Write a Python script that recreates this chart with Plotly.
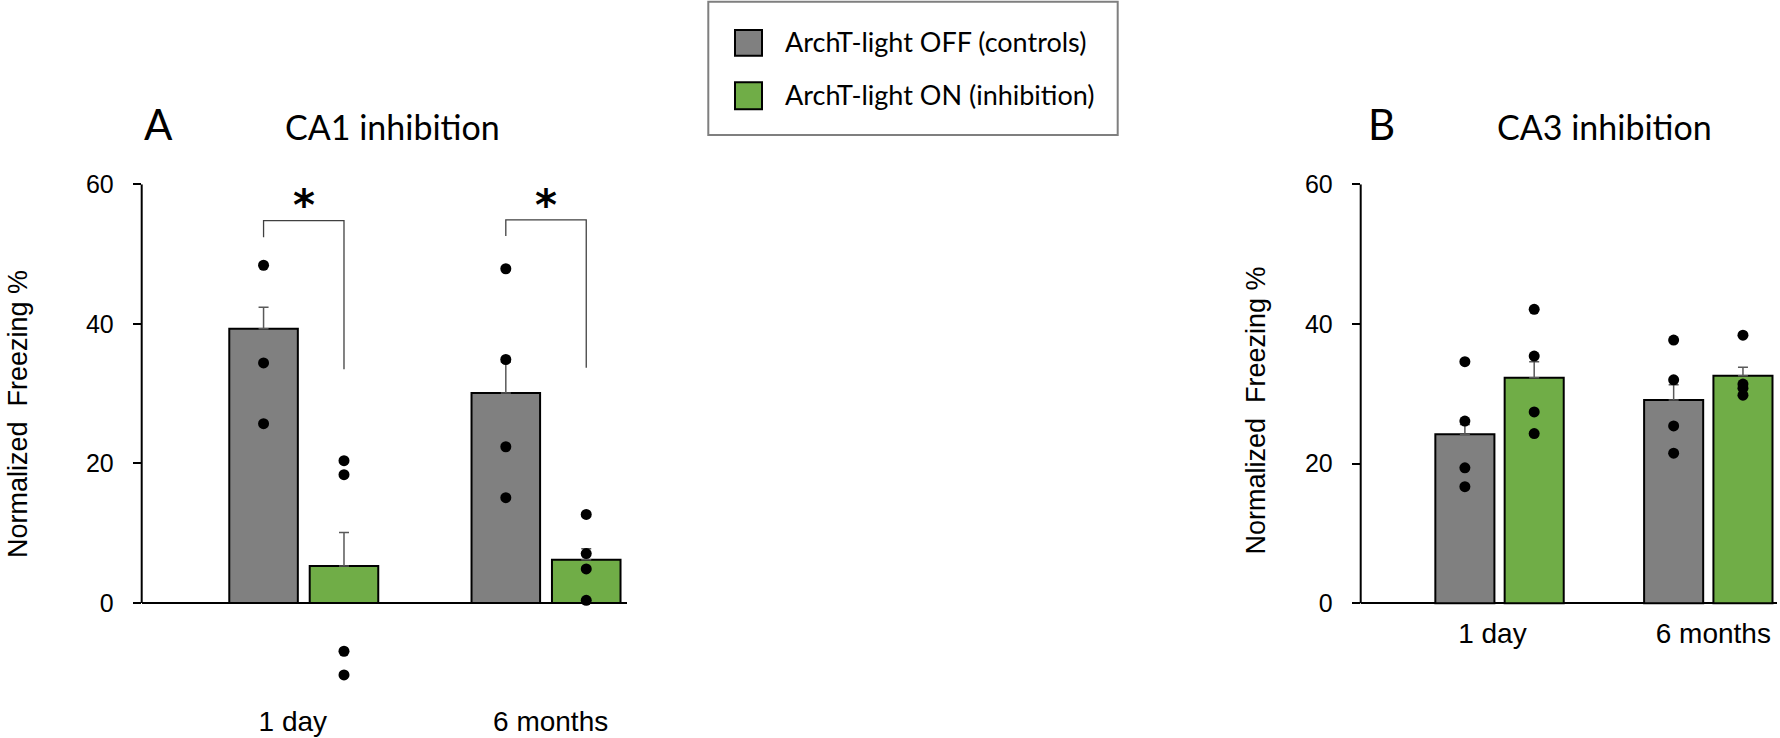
import plotly.graph_objects as go

# ---- data -------------------------------------------------------------
categories = ["1 day", "6 months"]
tick_values = [0, 20, 40, 60]

# CA1 inhibition (panel A)
ca1_off_mean = [39.3, 30.1]
ca1_off_sem = [3.1, 4.4]
ca1_on_mean = [5.3, 6.2]
ca1_on_sem = [4.8, 1.6]
ca1_off_points = [[48.4, 34.4, 25.7], [47.9, 34.9, 22.4, 15.1]]
ca1_on_points = [[20.4, 18.4, -6.9, -10.3], [12.7, 7.1, 4.9, 0.4]]

# CA3 inhibition (panel B)
ca3_off_mean = [24.2, 29.1]
ca3_off_sem = [1.4, 2.2]
ca3_on_mean = [32.3, 32.6]
ca3_on_sem = [2.3, 1.2]
ca3_off_points = [[34.6, 26.1, 19.4, 16.7], [37.7, 32.0, 25.4, 21.5]]
ca3_on_points = [[42.1, 35.4, 27.4, 24.3], [38.4, 31.4, 30.8, 29.8]]

series_names = ["ArchT-light OFF (controls)", "ArchT-light ON (inhibition)"]
panel_titles = ["CA1 inhibition", "CA3 inhibition"]
panel_letters = ["A", "B"]
y_title = "Normalized  Freezing %"

# ---- styling ----------------------------------------------------------
W, H = 1780, 738
GRAY = "#808080"
GREEN = "#70AD47"
ERR = "#595959"
AX_FONT = "Liberation Sans, Arial, sans-serif"
TXT_FONT = "Lato, Open Sans, sans-serif"
OFFSET = 0.166   # half distance between the two bars of a group
BAR_W = 0.283
# small horizontal nudges of the category labels (in category units)
LABEL_NUDGE_A = [-0.045, 0.019]
LABEL_NUDGE_B = [-0.034, 0.024]


def fx(px):
    return px / W


def fy(py):
    return 1 - py / H


fig = go.Figure()


def add_panel(xa, ya, off_mean, off_sem, on_mean, on_sem, off_pts, on_pts):
    idx = list(range(len(categories)))
    for sign, mean, sem, color, name in [
        (-1, off_mean, off_sem, GRAY, series_names[0]),
        (1, on_mean, on_sem, GREEN, series_names[1]),
    ]:
        fig.add_trace(go.Bar(
            x=[i + sign * OFFSET for i in idx], y=mean, width=BAR_W,
            name=name, showlegend=False,
            marker=dict(color=color, line=dict(color="black", width=2)),
            error_y=dict(type="data", symmetric=False, array=sem,
                         arrayminus=[0] * len(sem), color=ERR,
                         thickness=1.5, width=5),
            xaxis=xa, yaxis=ya,
        ))
    for sign, pts in [(-1, off_pts), (1, on_pts)]:
        xs, ys = [], []
        for i, group in zip(idx, pts):
            xs += [i + sign * OFFSET] * len(group)
            ys += group
        fig.add_trace(go.Scatter(
            x=xs, y=ys, mode="markers", showlegend=False,
            marker=dict(color="black", size=11),
            xaxis=xa, yaxis=ya,
        ))


add_panel("x", "y", ca1_off_mean, ca1_off_sem, ca1_on_mean, ca1_on_sem,
          ca1_off_points, ca1_on_points)
add_panel("x2", "y2", ca3_off_mean, ca3_off_sem, ca3_on_mean, ca3_on_sem,
          ca3_off_points, ca3_on_points)

xaxis_common = dict(
    tickmode="array", ticktext=categories,
    showgrid=False, zeroline=False, showline=False, ticks="",
    automargin=False,
    tickfont=dict(family=AX_FONT, size=28, color="black"),
)
yaxis_common = dict(
    tickmode="array", tickvals=tick_values,
    showgrid=False, showline=False, zeroline=True,
    zerolinecolor="black", zerolinewidth=2,
    ticks="outside", ticklen=8, tickwidth=2, tickcolor="black",
    ticklabelstandoff=14, automargin=False,
    tickfont=dict(family=AX_FONT, size=25, color="black"),
)

fig.update_layout(
    width=W, height=H,
    margin=dict(l=0, r=0, t=0, b=0, pad=0, autoexpand=False),
    paper_bgcolor="white", plot_bgcolor="white",
    barmode="overlay", showlegend=False,
    xaxis=dict(xaxis_common, domain=[fx(141.7), fx(626.7)],
               tickvals=[i + n for i, n in enumerate(LABEL_NUDGE_A)],
               range=[-0.669, 1.333], anchor="y", ticklabelstandoff=1),
    yaxis=dict(yaxis_common, domain=[fy(700.8), fy(184.3)],
               range=[-14, 60], anchor="x"),
    xaxis2=dict(xaxis_common, domain=[fx(1360.7), fx(1776.7)],
                tickvals=[i + n for i, n in enumerate(LABEL_NUDGE_B)],
                range=[-0.665, 1.3276], anchor="y2", ticklabelstandoff=0),
    yaxis2=dict(yaxis_common, domain=[fy(613.8), fy(184.3)],
                range=[-1.5, 60], anchor="x2"),
)

shapes = []
# vertical axis lines running from 0 to 60
for xr, yr in [("x domain", "y"), ("x2 domain", "y2")]:
    shapes.append(dict(type="line", xref=xr, yref=yr, x0=0, x1=0,
                       y0=0, y1=60, line=dict(color="black", width=2)))

# significance brackets in panel A
brackets = [(0, 52.4, 54.8, 33.5), (1, 52.6, 54.9, 33.7)]
for i, y_left, y_top, y_right in brackets:
    shapes.append(dict(
        type="path", xref="x", yref="y",
        path=(f"M {i - OFFSET},{y_left} L {i - OFFSET},{y_top} "
              f"L {i + OFFSET},{y_top} L {i + OFFSET},{y_right}"),
        line=dict(color="#404040", width=1.3),
    ))

# legend box and swatches
shapes.append(dict(type="rect", xref="paper", yref="paper",
                   x0=fx(708.3), x1=fx(1117.7), y0=fy(135), y1=fy(1.7),
                   line=dict(color="#7f7f7f", width=2), fillcolor="white"))
for (y0, y1), color in zip([(30, 55.7), (82.3, 109.3)], [GRAY, GREEN]):
    shapes.append(dict(type="rect", xref="paper", yref="paper",
                       x0=fx(735), x1=fx(762), y0=fy(y1), y1=fy(y0),
                       line=dict(color="black", width=2), fillcolor=color))

annotations = []
for name, yc in zip(series_names, [42, 94]):
    annotations.append(dict(text=name, xref="paper", yref="paper",
                            x=fx(783), y=fy(yc), xanchor="left",
                            yanchor="middle", showarrow=False,
                            font=dict(family=TXT_FONT, size=27, color="black")))

# significance stars
for i, _, y_top, _ in brackets:
    annotations.append(dict(text="<b>*</b>", xref="x", yref="y", x=i,
                            y=57.0, xanchor="center", yanchor="middle",
                            showarrow=False,
                            font=dict(family="DejaVu Sans", size=42,
                                      color="black")))

# panel letters and titles
for letter, lx, title, tx in zip(panel_letters, [158.3, 1381.7],
                                 panel_titles, [392.5, 1604.7]):
    annotations.append(dict(text=letter, xref="paper", yref="paper",
                            x=fx(lx), y=fy(124), xanchor="center",
                            yanchor="middle", showarrow=False,
                            font=dict(family=TXT_FONT, size=42,
                                      color="black")))
    annotations.append(dict(text=title, xref="paper", yref="paper",
                            x=fx(tx), y=fy(126), xanchor="center",
                            yanchor="middle", showarrow=False,
                            font=dict(family=TXT_FONT, size=34,
                                      color="black")))

# vertical axis titles
for xc, yc in [(18, 414), (1255.6, 411)]:
    annotations.append(dict(text=y_title, xref="paper", yref="paper",
                            x=fx(xc), y=fy(yc), xanchor="center",
                            yanchor="middle", textangle=-90,
                            showarrow=False,
                            font=dict(family=AX_FONT, size=27,
                                      color="black")))

fig.update_layout(shapes=shapes, annotations=annotations)
fig.write_html("out.html")
